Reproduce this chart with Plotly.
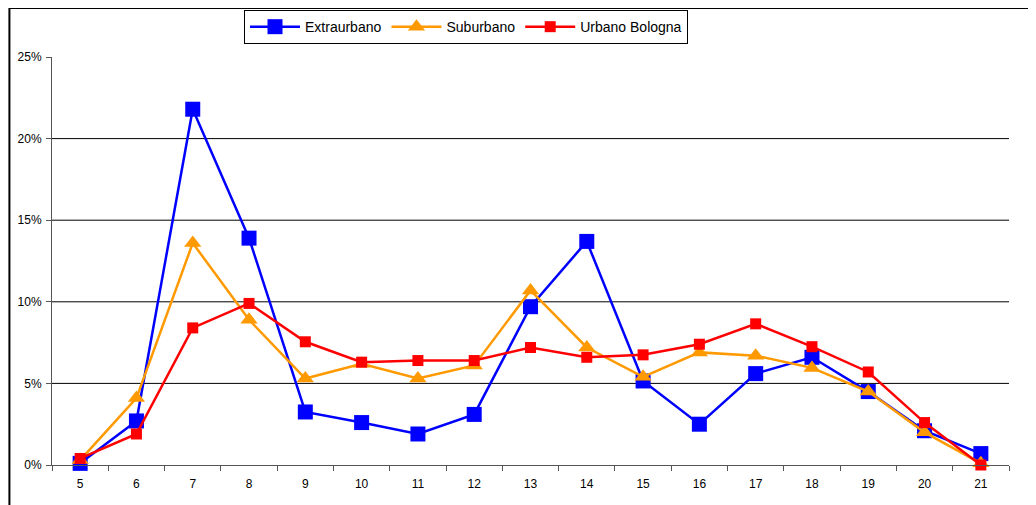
import plotly.graph_objects as go

hours = ["5", "6", "7", "8", "9", "10", "11", "12", "13", "14", "15", "16", "17", "18", "19", "20", "21"]
extraurbano = [0.1, 2.7, 21.8, 13.9, 3.25, 2.6, 1.9, 3.1, 9.7, 13.7, 5.15, 2.5, 5.6, 6.6, 4.5, 2.1, 0.7]
suburbano = [0.3, 4.1, 13.6, 8.9, 5.3, 6.2, 5.3, 6.1, 10.7, 7.2, 5.4, 6.9, 6.7, 5.95, 4.5, 2.0, 0.1]
urbano_bologna = [0.4, 1.9, 8.4, 9.9, 7.55, 6.3, 6.4, 6.4, 7.2, 6.6, 6.75, 7.4, 8.65, 7.25, 5.7, 2.6, 0.0]
y_ticks = [0, 5, 10, 15, 20, 25]
y_ticklabels = ["0%", "5%", "10%", "15%", "20%", "25%"]
grid_vals = [5, 10, 15, 20]

fig = go.Figure()
fig.add_trace(go.Scatter(
    x=hours, y=[v / 100 for v in extraurbano], name="Extraurbano",
    mode="lines+markers", line=dict(color="#0000FF", width=2.5),
    marker=dict(symbol="square", size=15, color="#0000FF"), cliponaxis=False))
fig.add_trace(go.Scatter(
    x=hours, y=[v / 100 for v in suburbano], name="Suburbano",
    mode="lines+markers", line=dict(color="#FF9900", width=2.5),
    marker=dict(symbol="triangle-up", size=15, color="#FF9900"), cliponaxis=False))
fig.add_trace(go.Scatter(
    x=hours, y=[v / 100 for v in urbano_bologna], name="Urbano Bologna",
    mode="lines+markers", line=dict(color="#FF0000", width=2.5),
    marker=dict(symbol="square", size=11, color="#FF0000"), cliponaxis=False))

shapes = []
for g in grid_vals:
    shapes.append(dict(type="line", xref="paper", yref="y", x0=0, x1=1,
                       y0=g / 100, y1=g / 100, line=dict(color="#000000", width=1), layer="below"))
# chart area border (left and top)
shapes.append(dict(type="line", xref="paper", yref="paper", x0=-0.0445, x1=-0.0445,
                   y0=-0.2, y1=1.12, line=dict(color="#000000", width=2)))
shapes.append(dict(type="line", xref="paper", yref="paper", x0=-0.0445, x1=1.05,
                   y0=1.12, y1=1.12, line=dict(color="#000000", width=2)))

fig.update_layout(
    width=1028, height=497,
    margin=dict(l=44, r=27, t=49, b=40, autoexpand=False),
    paper_bgcolor="white", plot_bgcolor="white",
    font=dict(family="Liberation Sans, Arial, sans-serif", size=12, color="#000000"),
    shapes=shapes,
    showlegend=True,
    legend=dict(orientation="h", x=0.4326, xanchor="center", y=1.115, yanchor="top",
                bordercolor="#000000", borderwidth=1, bgcolor="white",
                font=dict(size=14), itemwidth=50, tracegroupgap=0),
    xaxis=dict(type="category", tickson="boundaries", ticks="outside", ticklen=5,
               tickcolor="#555555", showline=True, linecolor="#555555", linewidth=1,
               showgrid=False, tickfont=dict(size=12), range=[-0.5, 16.5],
               ticklabelstandoff=8),
    yaxis=dict(range=[0, 0.25], tickvals=[t / 100 for t in y_ticks], ticktext=y_ticklabels,
               ticks="outside", ticklen=5, tickcolor="#555555", showline=True,
               linecolor="#555555", linewidth=1, showgrid=False, zeroline=False,
               tickfont=dict(size=12), ticklabelstandoff=2),
)

fig.write_html("out.html")
